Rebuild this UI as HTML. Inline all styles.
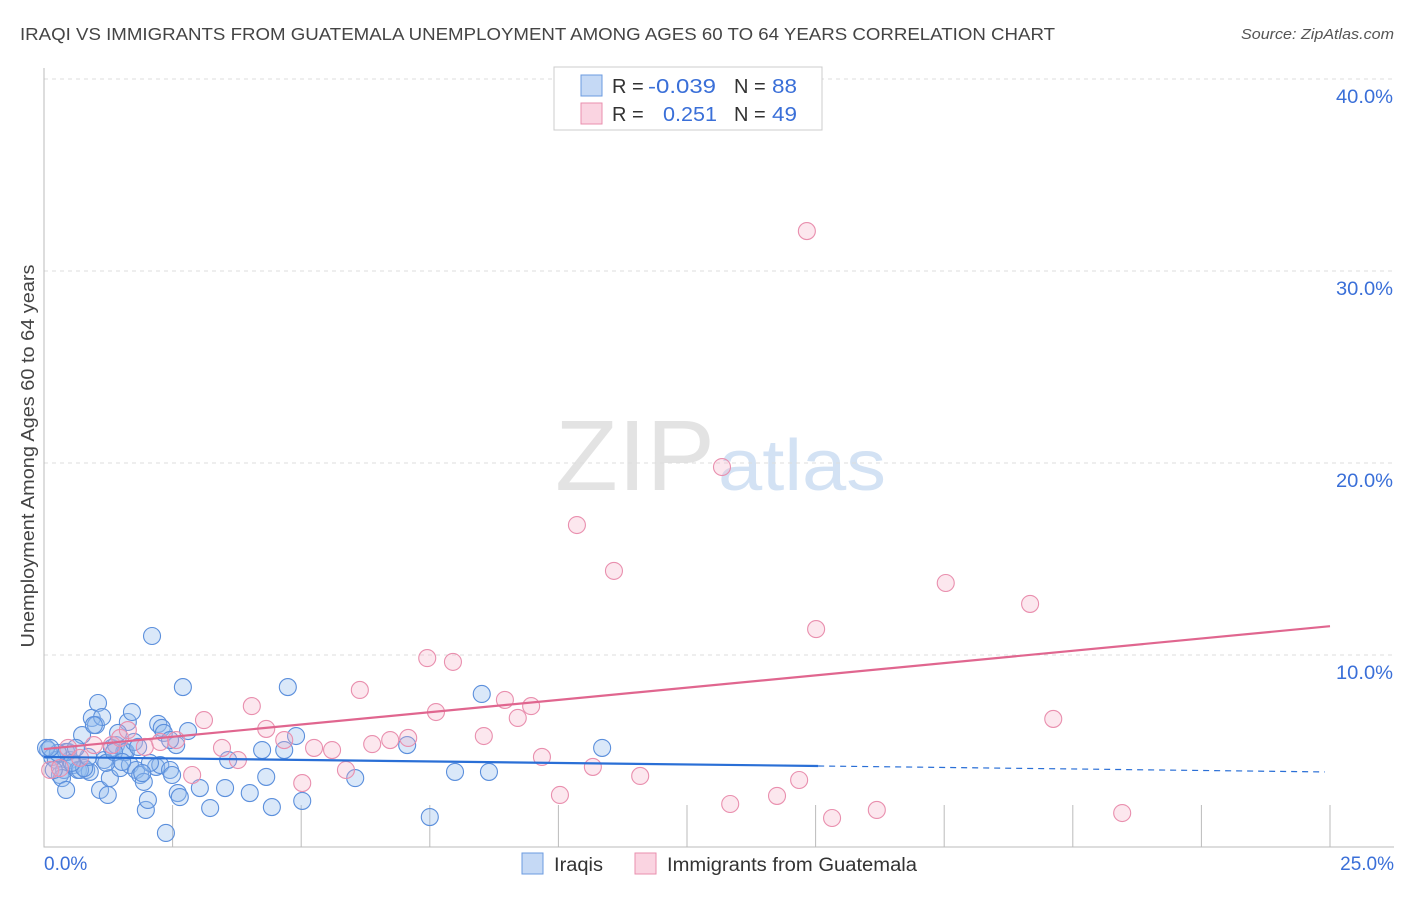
<!DOCTYPE html>
<html><head><meta charset="utf-8"><style>
body{margin:0;background:#fff;font-family:"Liberation Sans",sans-serif;}
svg text{font-family:"Liberation Sans",sans-serif;}
</style></head><body>
<svg id="chart" width="1406" height="892" xmlns="http://www.w3.org/2000/svg">
<text x="20" y="40" font-size="17.5" fill="#444" textLength="1035" lengthAdjust="spacingAndGlyphs">IRAQI VS IMMIGRANTS FROM GUATEMALA UNEMPLOYMENT AMONG AGES 60 TO 64 YEARS CORRELATION CHART</text>
<text x="1394" y="39" font-size="15" fill="#555" text-anchor="end" font-style="italic" textLength="153" lengthAdjust="spacingAndGlyphs">Source: ZipAtlas.com</text>
<text x="555" y="490" font-size="100" fill="#ddd" font-family="Liberation Serif" opacity="0.8" textLength="160" lengthAdjust="spacingAndGlyphs">ZIP</text>
<text x="718" y="490" font-size="72" fill="#c9dcf2" opacity="0.8" textLength="168" lengthAdjust="spacingAndGlyphs">atlas</text>
<g id="grid"></g>
<g id="marks"></g>
<text transform="translate(34,456) rotate(-90)" font-size="18" fill="#444" text-anchor="middle" textLength="383" lengthAdjust="spacingAndGlyphs">Unemployment Among Ages 60 to 64 years</text>
<g>
<rect x="554" y="67" width="268" height="63" fill="#fff" stroke="#ccc"/>
<rect x="581" y="75" width="21" height="21" fill="rgba(140,180,235,0.5)" stroke="#6b9be0"/>
<rect x="581" y="103" width="21" height="21" fill="rgba(245,170,195,0.5)" stroke="#e98fae"/>
<text x="612" y="93" font-size="20" fill="#333">R =</text>
<text x="648" y="93" font-size="20" fill="#3a6fd8" textLength="68" lengthAdjust="spacingAndGlyphs">-0.039</text>
<text x="734" y="93" font-size="20" fill="#333">N =</text>
<text x="772" y="93" font-size="20" fill="#3a6fd8" textLength="25" lengthAdjust="spacingAndGlyphs">88</text>
<text x="612" y="121" font-size="20" fill="#333">R =</text>
<text x="663" y="121" font-size="20" fill="#3a6fd8" textLength="54" lengthAdjust="spacingAndGlyphs">0.251</text>
<text x="734" y="121" font-size="20" fill="#333">N =</text>
<text x="772" y="121" font-size="20" fill="#3a6fd8" textLength="25" lengthAdjust="spacingAndGlyphs">49</text>
</g>
<g>
<rect x="522" y="853" width="21" height="21" fill="rgba(140,180,235,0.5)" stroke="#6b9be0"/>
<text x="554" y="871" font-size="19" fill="#333" textLength="49" lengthAdjust="spacingAndGlyphs">Iraqis</text>
<rect x="635" y="853" width="21" height="21" fill="rgba(245,170,195,0.5)" stroke="#e98fae"/>
<text x="667" y="871" font-size="19" fill="#333" textLength="250" lengthAdjust="spacingAndGlyphs">Immigrants from Guatemala</text>
</g>
</svg>
<script>
const yTicks=[10,20,30,40];
const yTickLabels=["10.0%","20.0%","30.0%","40.0%"];
const xTickLabels=["0.0%","25.0%"];
const blueX=[0.08,0.16,0.23,0.31,0.39,0.47,0.51,0.58,0.66,0.74,0.82,0.89,0.93,1.01,1.05,1.09,1.13,1.17,1.24,1.28,1.32,1.40,1.48,1.56,1.59,1.63,1.67,1.71,1.75,1.79,1.87,1.94,1.98,2.02,2.10,2.18,2.22,2.26,2.29,2.33,2.37,2.45,2.49,2.57,2.60,2.64,2.70,2.80,3.03,3.23,3.52,3.58,4.00,4.24,4.32,4.43,4.67,4.74,4.90,5.02,6.05,7.06,7.50,7.99,8.51,8.65,10.85,0.43,0.70,0.78,0.97,1.21,1.36,1.44,1.83,2.06,2.45,0.35,0.27,0.54,0.86,0.62,1.52,0.19,1.91,0.04,0.12,0.43];
const blueY=[5.05,4.69,4.53,3.75,4.01,4.95,4.53,4.27,4.01,5.83,4.01,3.91,6.72,6.35,7.5,2.97,6.77,4.53,2.71,3.59,5.16,5.31,4.11,4.95,4.95,6.51,4.27,7.03,5.47,4.01,3.75,3.39,1.93,2.45,10.99,4.17,6.41,4.27,6.2,5.94,0.73,4.01,3.75,5.31,2.81,2.6,8.33,6.04,3.07,2.03,3.07,4.53,2.81,5.05,3.65,2.08,5.05,8.33,5.78,2.4,3.59,5.31,1.56,3.91,7.97,3.91,5.16,4.95,4.01,4.11,6.35,4.38,4.95,5.94,5.21,4.38,5.57,3.59,4.9,4.38,4.69,5.16,4.43,4.01,3.85,5.16,5.16,2.97];
const pinkX=[0.12,0.31,0.47,0.70,0.97,1.32,1.48,1.63,1.96,2.26,2.57,2.88,3.11,3.46,3.77,4.04,4.32,4.67,5.02,5.25,5.6,5.87,6.14,6.38,6.73,7.08,7.45,7.62,7.95,8.55,8.96,9.21,9.47,9.68,10.03,10.36,10.67,11.08,11.59,13.18,13.34,14.25,14.68,14.83,15.01,15.32,16.19,17.53,19.17,19.62,20.96];
const pinkY=[4.01,4.11,5.16,4.64,5.31,5.31,5.68,6.09,5.21,5.47,5.57,3.75,6.61,5.16,4.53,7.34,6.15,5.57,3.33,5.16,5.05,4.01,8.18,5.36,5.57,5.68,9.84,7.03,9.64,5.78,7.66,6.72,7.34,4.69,2.71,16.77,4.17,14.38,3.7,19.79,2.24,2.66,3.49,32.08,11.35,1.51,1.93,13.75,12.66,6.67,1.77];
const blueTrend=[4.69,4.22,3.91];
const blueTrendX=[0,15.05,24.9];
const pinkTrend=[5.1,11.5];
const pinkTrendX=[0,25];
const NS="http://www.w3.org/2000/svg";
const sx=v=>44+v*51.44, sy=v=>847-v*19.2;
function mk(t,a,p){const e=document.createElementNS(NS,t);for(const k in a)e.setAttribute(k,a[k]);p.appendChild(e);return e;}
const g=document.getElementById('grid'),m=document.getElementById('marks');
yTicks.forEach((t,i)=>{
 const l=mk('line',{x1:44,x2:1394,y1:sy(t),y2:sy(t),stroke:'#ddd','stroke-dasharray':'4,4'},g);
 
 
 const tx=mk('text',{x:1393,y:sy(t)+24,'font-size':19,fill:'#3a6fd8','text-anchor':'end',textLength:57,lengthAdjust:'spacingAndGlyphs'},g);
 tx.textContent=yTickLabels[i];
 
 
});
const ax=mk('path',{d:'M44 68V847H1394',stroke:'#bbb',fill:'none'},g);


for(let i=1;i<=10;i++){const t=mk('line',{x1:sx(i*2.5),x2:sx(i*2.5),y1:805,y2:847,stroke:'#bbb'},g);
 
 }
[[0,'start'],[25,'end']].forEach((p,i)=>{const t=mk('text',{x:i?1394:44,y:870,'font-size':19,fill:'#3a6fd8','text-anchor':p[1]},g);t.textContent=xTickLabels[i];
 
 });
blueX.forEach((x,i)=>{const c=mk('circle',{cx:sx(x),cy:sy(blueY[i]),r:8.5,fill:'rgba(150,188,238,0.35)',stroke:'#5b8fdc','stroke-width':1.1},m);
 
 });
pinkX.forEach((x,i)=>{const c=mk('circle',{cx:sx(x),cy:sy(pinkY[i]),r:8.5,fill:'rgba(245,175,198,0.3)',stroke:'#e98fae','stroke-width':1.1},m);
 
 });
const bl=mk('line',{x1:sx(blueTrendX[0]),y1:sy(blueTrend[0]),x2:sx(blueTrendX[1]),y2:sy(blueTrend[1]),stroke:'#2a6fd6','stroke-width':2.2},m);


const bd=mk('line',{x1:sx(blueTrendX[1]),y1:sy(blueTrend[1]),x2:sx(blueTrendX[2]),y2:sy(blueTrend[2]),stroke:'#2a6fd6','stroke-width':1.2,'stroke-dasharray':'6,5'},m);


const pl=mk('line',{x1:sx(pinkTrendX[0]),y1:sy(pinkTrend[0]),x2:sx(pinkTrendX[1]),y2:sy(pinkTrend[1]),stroke:'#e0668f','stroke-width':2.2},m);


</script>
</body></html>
